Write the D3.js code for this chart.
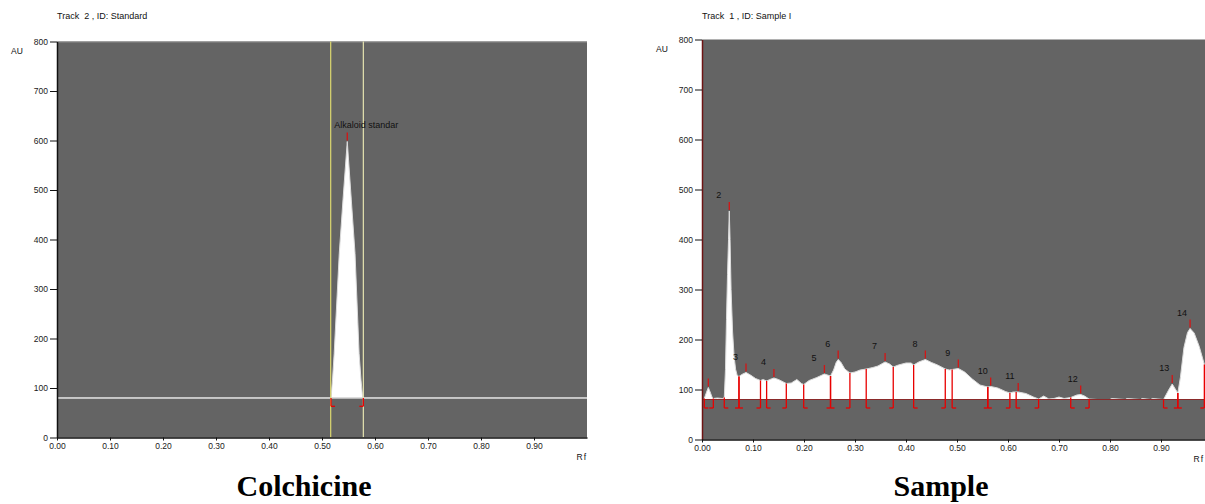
<!DOCTYPE html>
<html>
<head>
<meta charset="utf-8">
<script src="https://cdn.jsdelivr.net/npm/d3@7"></script>
<style>
  body { margin: 0; background: #fff; }
  svg { display: block; }
  .tick text { font-family: "Liberation Sans", Arial, sans-serif; font-size: 8.5px; fill: #1a1a1a; }
</style>
</head>
<body>
<div id="chart"></div>
<script>
// densitogram values (Rf vs AU)

var xTicks = [0, 0.1, 0.2, 0.3, 0.4, 0.5, 0.6, 0.7, 0.8, 0.9];
var yTicks = [0, 100, 200, 300, 400, 500, 600, 700, 800];
var baselineAU = 80;
var bracketAU = 63;

// standard track
var stdRf = [0, 0.517, 0.5198, 0.523, 0.5326, 0.5396, 0.5477, 0.5553, 0.5623, 0.570, 0.5736, 0.5768, 1.0];
var stdAU = [80, 80, 116, 170, 372, 480, 598, 480, 372, 170, 116, 80, 80];
var stdPeakStart = [0.517];
var stdPeakMax = [0.5477];
var stdPeakEnd = [0.578];
var stdPeakLabels = ["Alkaloid standar"];
var stdTrackLines = [0.5164, 0.578];

// sample track
var smpRf = [0.003, 0.0045, 0.009, 0.0124, 0.016, 0.020, 0.0222, 0.030, 0.040, 0.0437,
  0.046, 0.048, 0.050, 0.052, 0.0535, 0.055, 0.057, 0.060, 0.063, 0.066, 0.069, 0.0725,
  0.078, 0.0863, 0.095, 0.105, 0.1147, 0.120, 0.1267, 0.133, 0.141, 0.150, 0.1653,
  0.175, 0.186, 0.195, 0.1994, 0.210, 0.225, 0.240, 0.252, 0.258, 0.263, 0.267, 0.272,
  0.280, 0.290, 0.300, 0.310, 0.322, 0.335, 0.345, 0.359, 0.368, 0.375, 0.385, 0.400,
  0.410, 0.415, 0.425, 0.438, 0.450, 0.462, 0.477, 0.485, 0.4905, 0.5026, 0.515, 0.530,
  0.545, 0.5604, 0.566, 0.580, 0.595, 0.6037, 0.610, 0.620, 0.635, 0.650, 0.660, 0.670,
  0.680, 0.690, 0.700, 0.710, 0.723, 0.735, 0.7425, 0.750, 0.759, 0.775, 0.800, 0.803,
  0.830, 0.833, 0.860, 0.863, 0.880, 0.883, 0.905, 0.915, 0.922, 0.928, 0.933, 0.938,
  0.945, 0.952, 0.957, 0.965, 0.975, 0.985, 0.995];
var smpAU = [80, 82, 95, 104, 95, 84, 82, 83, 82, 84,
  140, 240, 330, 400, 457, 400, 300, 215, 165, 140, 128, 126,
  130, 134, 129, 122, 118, 120, 117, 120, 123, 120, 112,
  113, 120, 112, 110, 118, 124, 131, 127, 139, 154, 160, 155,
  141, 133, 135, 139, 141, 144, 147, 155, 151, 145, 149, 153,
  153, 149, 155, 160, 154, 149, 141, 139, 140, 142, 135, 121,
  109, 105, 106, 103, 96, 93, 95, 95, 92, 85, 81, 87,
  81, 82, 85, 82, 84, 89, 90, 87, 81, 80, 80, 82,
  80, 82, 80, 82, 80, 82, 80, 99, 111, 101, 93, 124,
  184, 214, 222, 213, 186, 150, 110];
var smpPeakStart = [0.0045, 0.0437, 0.0725, 0.1267, 0.1994, 0.252, 0.322, 0.415, 0.4905, 0.5604, 0.616, 0.723, 0.905, 0.933];
var smpPeakMax   = [0.0124, 0.0535, 0.0863, 0.141, 0.240, 0.267, 0.359, 0.438, 0.5026, 0.566, 0.620, 0.7425, 0.922, 0.957];
var smpPeakEnd   = [0.0222, 0.0725, 0.1147, 0.1653, 0.252, 0.290, 0.375, 0.477, 0.5604, 0.6037, 0.660, 0.759, 0.933, 0.985];
var smpPeakLabels = ["", "2", "3", "4", "5", "6", "7", "8", "9", "10", "11", "12", "13", "14"];

var font = '"Liberation Sans", Arial, sans-serif';

var svg = d3.select("#chart")
            .append("svg")
            .attr("width", 1205)
            .attr("height", 504);

// linear lookup of the trace at a given Rf
function auAt(rf, xs, ys) {
    var i = d3.bisectLeft(xs, rf);
    if (i <= 0) return ys[0];
    if (i >= xs.length) return ys[ys.length - 1];
    var t = (rf - xs[i - 1]) / (xs[i] - xs[i - 1]);
    return ys[i - 1] + t * (ys[i] - ys[i - 1]);
}

function drawPanel(p) {
    var x = d3.scaleLinear().domain([0, 1]).range([p.left, p.right]);
    var y = d3.scaleLinear().domain([0, 800]).range([p.bottom, p.top]);
    var g = svg.append("g");

    // plot background
    g.append("rect")
        .attr("x", x(0)).attr("y", y(800))
        .attr("width", x(1) - x(0)).attr("height", y(0) - y(800))
        .attr("fill", "#646464");

    if (p.topLine) {
        g.append("line")
            .attr("x1", x(0)).attr("x2", x(1))
            .attr("y1", y(800) + 0.5).attr("y2", y(800) + 0.5)
            .attr("stroke", "#8c8c8c");
    }

    var pts = p.rf.map(function(d, i) { return [d, p.au[i]]; });

    // white area between trace and baseline
    var area = d3.area()
                 .x(function(d) { return x(d[0]); })
                 .y0(y(baselineAU))
                 .y1(function(d) { return y(Math.max(d[1], baselineAU)); });
    g.append("path").datum(pts)
        .attr("d", area)
        .attr("fill", "#fff");

    g.append("path").datum(pts)
        .attr("d", d3.line().x(function(d) { return x(d[0]); }).y(function(d) { return y(d[1]); }))
        .attr("fill", "none")
        .attr("stroke", "#dcdcdc")
        .attr("stroke-width", 1);

    // baseline
    g.append("line")
        .attr("x1", x(0)).attr("x2", x(1))
        .attr("y1", y(baselineAU)).attr("y2", y(baselineAU))
        .attr("stroke", p.baseColor)
        .attr("stroke-width", p.baseWidth);

    // track lines (standard only)
    (p.trackLines || []).forEach(function(t, i) {
        g.append("line")
            .attr("x1", x(t)).attr("x2", x(t))
            .attr("y1", y(800)).attr("y2", y(0))
            .attr("stroke", i == 0 ? "#dcd870" : "#e6e4b0")
            .attr("stroke-width", 1.2);
    });

    // integration brackets under each peak
    var red = "#e80000";
    p.start.forEach(function(s, i) {
        var e = p.end[i];
        [[s, 1], [e, -1]].forEach(function(b) {
            var bx = x(b[0]);
            g.append("line")
                .attr("x1", bx).attr("x2", bx)
                .attr("y1", y(Math.max(auAt(b[0], p.rf, p.au), baselineAU)))
                .attr("y2", y(bracketAU))
                .attr("stroke", red).attr("stroke-width", 1.3);
            g.append("line")
                .attr("x1", bx).attr("x2", bx + b[1] * 4)
                .attr("y1", y(bracketAU)).attr("y2", y(bracketAU))
                .attr("stroke", red).attr("stroke-width", 1.3);
        });

        var m = p.max[i];
        var top = y(auAt(m, p.rf, p.au));
        g.append("line")
            .attr("x1", x(m)).attr("x2", x(m))
            .attr("y1", top - 9).attr("y2", top - 1)
            .attr("stroke", "#d41515").attr("stroke-width", 1.3);

        if (p.labels[i]) {
            g.append("text")
                .attr("x", x(m) - 13)
                .attr("y", top - 13)
                .attr("font-family", font)
                .attr("font-size", "9px")
                .attr("fill", "#111")
                .text(p.labels[i]);
        }
    });

    // axes
    var ya = g.append("g")
        .attr("transform", "translate(" + x(0) + ",0)")
        .call(d3.axisLeft(y).tickValues(yTicks).tickSize(7).tickSizeOuter(0).tickPadding(2));
    ya.select(".domain").attr("stroke", p.yAxisColor).attr("stroke-width", 1.5);
    ya.selectAll(".tick line").attr("stroke", "#111");

    var xa = g.append("g")
        .attr("transform", "translate(0," + y(0) + ")")
        .call(d3.axisBottom(x).tickValues(xTicks).tickFormat(d3.format(".2f"))
                .tickSize(3).tickSizeOuter(0).tickPadding(2));
    xa.select(".domain").attr("stroke", "#111").attr("stroke-width", 1.5);
    xa.selectAll(".tick line").attr("stroke", "#111");

    g.append("text")
        .attr("x", x(0)).attr("y", p.titleY)
        .attr("font-family", font).attr("font-size", "9px").attr("fill", "#111")
        .attr("xml:space", "preserve")
        .text(p.title);

    g.append("text")
        .attr("x", x(0) - 46).attr("y", y(800) + 12)
        .attr("font-family", font).attr("font-size", "8.5px").attr("fill", "#111")
        .text("AU");

    g.append("text")
        .attr("x", Math.min(x(1), 1204)).attr("y", y(0) + 22)
        .attr("text-anchor", "end")
        .attr("font-family", font).attr("font-size", "8.5px").attr("fill", "#111")
        .attr("letter-spacing", "1px")
        .text("Rf");

    svg.append("text")
        .attr("x", p.captionX).attr("y", 496)
        .attr("text-anchor", "middle")
        .attr("font-family", '"Liberation Serif", "Times New Roman", serif')
        .attr("font-weight", "bold")
        .attr("font-size", "30px")
        .attr("fill", "#000")
        .text(p.caption);
}

drawPanel({
    left: 57, right: 587, top: 41.5, bottom: 437.5,
    rf: stdRf, au: stdAU,
    start: stdPeakStart, max: stdPeakMax, end: stdPeakEnd, labels: stdPeakLabels,
    trackLines: stdTrackLines,
    baseColor: "#d2d2d2", baseWidth: 1.5,
    yAxisColor: "#111", topLine: true,
    title: "Track  2 , ID: Standard", titleY: 19,
    caption: "Colchicine", captionX: 304
});

drawPanel({
    left: 702, right: 1212, top: 39.5, bottom: 439.5,
    rf: smpRf, au: smpAU,
    start: smpPeakStart, max: smpPeakMax, end: smpPeakEnd, labels: smpPeakLabels,
    trackLines: [],
    baseColor: "#8a2a2a", baseWidth: 1,
    yAxisColor: "#6e1414", topLine: false,
    title: "Track  1 , ID: Sample I", titleY: 18.5,
    caption: "Sample", captionX: 941
});
</script>
</body>
</html>
